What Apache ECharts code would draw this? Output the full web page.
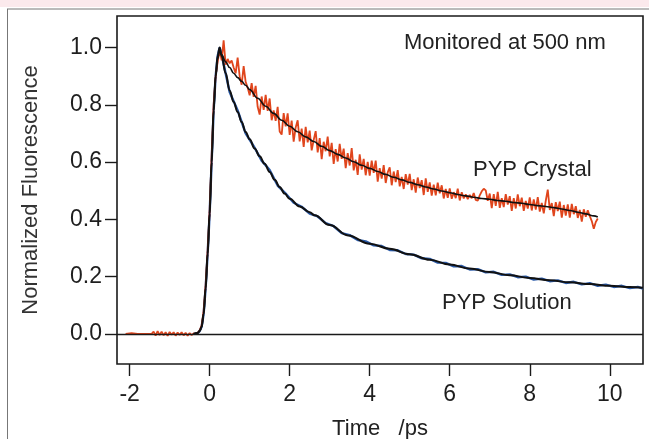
<!DOCTYPE html>
<html><head><meta charset="utf-8">
<script src="https://cdn.jsdelivr.net/npm/echarts@6/dist/echarts.min.js"></script>
<style>html,body{margin:0;padding:0;background:#fff}#c{width:649px;height:439px}</style>
</head><body><div id="c"></div>
<script>
// ---- Data ----
var xTicks = [-2, 0, 2, 4, 6, 8, 10];
var yTicks = [0, 0.2, 0.4, 0.6, 0.8, 1.0];

// PYP Crystal (raw, orange)
var crystalTime = [-2.1,-1.95,-1.8,-1.6,-1.45,-1.4,-1.35,-1.3,-1.25,-1.2,-1.15,-1.1,-1.05,-1.0,-0.95,-0.9,-0.85,-0.8,-0.75,-0.7,-0.65,-0.6,-0.55,-0.5,-0.45,-0.4,-0.35,-0.3,-0.25,-0.2,-0.15,-0.1,-0.05,0.0,0.05,0.1,0.15,0.2,0.25,
 0.3,0.35,0.4,0.45,0.5,0.55,0.6,0.65,0.7,0.75,0.8,0.85,0.9,0.95,
 1.0,1.05,1.1,1.15,1.2,1.25,1.3,1.35,1.4,1.45,1.5,1.55,1.6,1.65,1.7,1.75,1.8,1.85,1.9,1.95,
 2.0,2.05,2.1,2.15,2.2,2.25,2.3,2.35,2.4,2.45,2.5,2.55,2.6,2.65,2.7,2.75,2.8,2.85,2.9,2.95,
 3.0,3.05,3.1,3.15,3.2,3.25,3.3,3.35,3.4,3.45,3.5,3.55,3.6,3.65,3.7,3.75,3.8,3.85,3.9,3.95,
 4.0,4.05,4.1,4.15,4.2,4.25,4.3,4.35,4.4,4.45,4.5,4.55,4.6,4.65,4.7,4.75,4.8,4.85,4.9,4.95,
 5.0,5.05,5.1,5.15,5.2,5.25,5.3,5.35,5.4,5.45,5.5,5.55,5.6,5.65,5.7,5.75,5.8,5.85,5.9,5.95,
 6.0,6.05,6.1,6.15,6.2,6.25,6.3,6.35,6.4,6.45,6.5,6.55,6.6,6.65,6.7,6.75,6.8,6.85,6.9,6.95,
 7.0,7.05,7.1,7.15,7.2,7.25,7.3,7.35,7.4,7.45,7.5,7.55,7.6,7.65,7.7,7.75,7.8,7.85,7.9,7.95,
 8.0,8.05,8.1,8.15,8.2,8.25,8.3,8.35,8.4,8.45,8.5,8.55,8.6,8.65,8.7,8.75,8.8,8.85,8.9,8.95,
 9.0,9.05,9.1,9.15,9.2,9.25,9.3,9.35,9.4,9.45,9.5,9.55,9.6,9.65,9.7];
var crystalSignal = [0.0,0.003,0.0,0.0,0.0,0.008,-0.006,0.01,-0.004,0.008,-0.005,0.006,-0.007,0.007,-0.003,0.006,-0.006,0.005,-0.004,0.006,-0.005,0.004,-0.006,0.003,-0.004,0.002,0.0,0.004,0.012,0.03,0.08,0.17,0.29,0.43,0.62,0.8,0.9,0.95,0.99,
 0.955,1.025,0.94,0.96,0.945,0.955,0.93,0.91,0.965,0.9,0.87,0.935,0.88,0.86,
 0.833,0.876,0.828,0.866,0.793,0.766,0.829,0.782,0.835,0.779,0.822,0.746,0.780,0.744,0.793,0.707,0.696,0.771,0.725,0.770,
 0.695,0.745,0.671,0.721,0.746,0.672,0.717,0.653,0.723,0.669,0.710,0.641,0.677,0.708,0.634,0.684,0.610,0.671,0.638,0.689,
 0.620,0.667,0.594,0.645,0.602,0.664,0.611,0.647,0.579,0.631,0.588,0.649,0.571,0.608,0.555,0.627,0.574,0.611,0.554,0.601,
 0.553,0.605,0.562,0.605,0.532,0.579,0.542,0.589,0.527,0.564,0.582,0.519,0.567,0.530,0.572,0.515,0.548,0.506,0.558,0.521,
 0.559,0.502,0.540,0.493,0.546,0.509,0.537,0.485,0.543,0.496,0.529,0.483,0.521,0.484,0.528,0.491,0.519,0.473,0.506,0.475,
 0.508,0.472,0.495,0.474,0.507,0.466,0.495,0.473,0.487,0.471,0.485,0.474,0.492,0.468,0.465,0.484,0.498,0.507,0.501,0.465,
 0.490,0.439,0.488,0.447,0.496,0.440,0.474,0.443,0.488,0.452,0.481,0.430,0.474,0.438,0.487,0.446,0.476,0.430,0.464,0.438,
 0.477,0.431,0.470,0.434,0.478,0.427,0.457,0.421,0.465,0.504,0.433,0.457,0.411,0.460,0.429,0.462,0.406,0.450,0.413,0.452,
 0.406,0.454,0.418,0.446,0.405,0.433,0.392,0.435,0.409,0.432,0.411,0.394,0.367,0.391,0.403];

// PYP Crystal (fit, black)
var crystalFitTime = [-0.4,-0.3,-0.25,-0.2,-0.15,-0.1,-0.05,0.0,0.05,0.1,0.15,0.2,0.25,0.3,0.4,0.5,0.6,0.7,0.8,0.9,1.0,1.2,1.4,1.6,1.8,2.0,2.2,2.4,2.6,2.8,3.0,3.2,3.4,3.6,3.8,4.0,4.2,4.4,4.6,4.8,5.0,5.2,5.4,5.6,5.8,6.0,6.2,6.4,6.6,6.8,7.0,7.2,7.4,7.6,7.8,8.0,8.2,8.4,8.6,8.8,9.0,9.2,9.4,9.6,9.7];
var crystalFitValue = [0.0,0.003,0.01,0.025,0.07,0.16,0.28,0.42,0.6,0.78,0.9,0.96,0.99,0.975,0.95,0.93,0.91,0.895,0.882,0.868,0.853,0.823,0.795,0.77,0.746,0.725,0.706,0.688,0.672,0.655,0.64,0.627,0.614,0.601,0.589,0.578,0.567,0.557,0.547,0.538,0.529,0.521,0.513,0.506,0.499,0.493,0.487,0.482,0.477,0.473,0.47,0.466,0.463,0.459,0.456,0.452,0.448,0.445,0.441,0.436,0.431,0.425,0.419,0.412,0.408];

// PYP Solution (raw, blue)
var solutionTime = [-0.4,-0.3,-0.25,-0.2,-0.15,-0.1,-0.05,0.0,0.05,0.1,0.15,0.2,0.25,0.3,0.5,0.7,0.9,1.1,1.3,1.5,1.7,1.9,2.1,2.3,2.5,2.7,2.9,3.1,3.3,3.5,3.7,3.9,4.1,4.3,4.5,4.7,4.9,5.1,5.3,5.5,5.7,5.9,6.1,6.3,6.5,6.7,6.9,7.1,7.3,7.5,7.7,7.9,8.1,8.3,8.5,8.7,8.9,9.1,9.3,9.5,9.7,9.9,10.1,10.3,10.5,10.7,10.83];
var solutionSignal = [0.0,0.003,0.01,0.025,0.07,0.16,0.28,0.42,0.6,0.78,0.9,0.97,1.0,0.975,0.845,0.78,0.70,0.656,0.605,0.572,0.518,0.49,0.458,0.444,0.42,0.41,0.387,0.376,0.352,0.345,0.328,0.323,0.309,0.307,0.293,0.292,0.279,0.277,0.264,0.262,0.249,0.248,0.236,0.237,0.225,0.226,0.215,0.217,0.206,0.208,0.198,0.2,0.19,0.193,0.184,0.187,0.178,0.182,0.173,0.177,0.168,0.172,0.164,0.168,0.16,0.164,0.158];

// PYP Solution (fit, black)
var solutionFitTime = [-0.4,-0.3,-0.25,-0.2,-0.15,-0.1,-0.05,0.0,0.05,0.1,0.15,0.2,0.25,0.3,0.4,0.5,0.6,0.7,0.8,0.9,1.0,1.125,1.25,1.375,1.5,1.625,1.75,1.875,2.0,2.25,2.5,2.625,3.0,3.46,4.0,4.5,5.0,5.5,6.0,6.5,7.0,7.5,8.0,8.5,9.0,9.5,10.0,10.5,10.83];
var solutionFitValue = [0.0,0.003,0.01,0.025,0.07,0.16,0.28,0.42,0.6,0.78,0.9,0.97,1.0,0.97,0.91,0.85,0.81,0.775,0.74,0.705,0.68,0.647,0.62,0.594,0.565,0.538,0.513,0.49,0.472,0.445,0.425,0.414,0.38,0.344,0.315,0.297,0.278,0.259,0.242,0.228,0.216,0.205,0.195,0.187,0.18,0.174,0.168,0.164,0.161];

var titleText = "Monitored at 500 nm";
var crystalLabel = "PYP Crystal";
var solutionLabel = "PYP Solution";
var xName = "Time   /ps";
var yName = "Normalized Fluorescence";

function zip(a, b) { return a.map(function (v, i) { return [v, b[i]]; }); }

var FONT = "Liberation Sans, Arial, Helvetica, sans-serif";
var chart = echarts.init(document.getElementById('c'), null, { renderer: 'canvas' });
chart.setOption({
  animation: false,
  backgroundColor: '#ffffff',
  grid: { left: 117, top: 16, right: 6, bottom: 75, containLabel: false, outerBoundsMode: 'none', show: true, borderColor: '#1a1a1a', borderWidth: 1.6, backgroundColor: 'transparent' },
  xAxis: {
    type: 'value', min: -2.315, max: 10.83,
    name: xName, nameLocation: 'middle', nameGap: 54,
    nameTextStyle: { fontFamily: FONT, fontSize: 22, color: '#222' },
    axisLine: { show: false, onZero: false },
    axisTick: { show: true, inside: false, length: 12, customValues: xTicks, lineStyle: { color: '#1a1a1a', width: 1.4 } },
    axisLabel: { customValues: xTicks, margin: 19, fontFamily: FONT, fontSize: 23, color: '#1e1e1e' },
    splitLine: { show: false }
  },
  yAxis: {
    type: 'value', min: -0.105, max: 1.11,
    name: yName, nameLocation: 'middle', nameGap: 75, nameRotate: 90,
    nameTextStyle: { fontFamily: FONT, fontSize: 22, color: '#333' },
    axisLine: { show: false, onZero: false },
    axisTick: { show: true, inside: false, length: 12, customValues: yTicks, lineStyle: { color: '#1a1a1a', width: 1.4 } },
    axisLabel: { customValues: yTicks, margin: 15, fontFamily: FONT, fontSize: 23, color: '#1e1e1e', formatter: function (v) { return v.toFixed(1); } },
    splitLine: { show: false }
  },
  series: [
    {
      name: 'Solution data', type: 'line', data: zip(solutionTime, solutionSignal), showSymbol: false,
      lineStyle: { color: '#2a5aa8', width: 2.4 }, z: 2,
      markLine: { silent: true, symbol: 'none', label: { show: false }, lineStyle: { color: '#1a1a1a', width: 1.4, type: 'solid' }, data: [{ yAxis: 0 }] }
    },
    {
      name: 'Crystal data', type: 'line', data: zip(crystalTime, crystalSignal), showSymbol: false,
      lineStyle: { color: '#e0451c', width: 1.8 }, z: 3
    },
    {
      name: 'Solution fit', type: 'line', data: zip(solutionFitTime, solutionFitValue), showSymbol: false,
      smooth: 0.4, smoothMonotone: 'x', lineStyle: { color: '#111111', width: 2 }, z: 4
    },
    {
      name: 'Crystal fit', type: 'line', data: zip(crystalFitTime, crystalFitValue), showSymbol: false,
      smooth: 0.4, smoothMonotone: 'x', lineStyle: { color: '#111111', width: 1.6 }, z: 4
    }
  ],
  graphic: [
    { type: 'rect', left: 0, top: 0, shape: { width: 649, height: 7 }, style: { fill: '#fbe9ec' }, silent: true, z: -10 },
    { type: 'line', shape: { x1: 7, y1: 9, x2: 649, y2: 9 }, style: { stroke: '#777', lineWidth: 1 }, silent: true },
    { type: 'line', shape: { x1: 7.5, y1: 9, x2: 7.5, y2: 439 }, style: { stroke: '#777', lineWidth: 1 }, silent: true },
    { type: 'text', x: 404, y: 43, style: { text: titleText, font: '22px ' + FONT, fill: '#222', textVerticalAlign: 'middle' }, silent: true },
    { type: 'text', x: 473, y: 170, style: { text: crystalLabel, font: '22px ' + FONT, fill: '#222', textVerticalAlign: 'middle' }, silent: true },
    { type: 'text', x: 442, y: 303, style: { text: solutionLabel, font: '22px ' + FONT, fill: '#222', textVerticalAlign: 'middle' }, silent: true }
  ]
});
</script>
</body></html>
